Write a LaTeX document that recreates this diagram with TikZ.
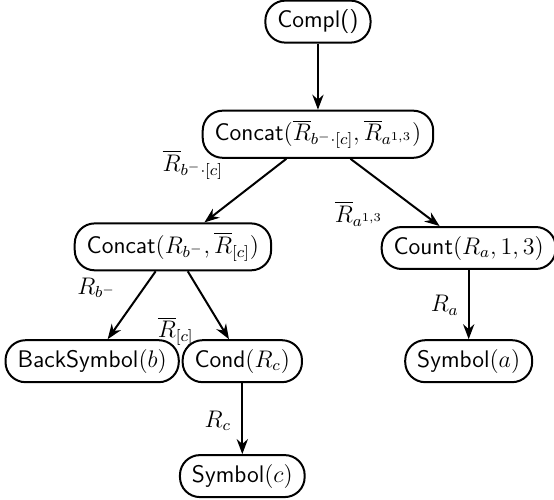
\documentclass[tikz,border=0pt]{standalone}
\usepackage{tikz}
\usetikzlibrary{arrows.meta}
\usepackage{amsmath}

\begin{document}
\begin{tikzpicture}[
    op/.style={draw, line width=1pt, rounded corners=10pt, font=\sffamily\large,
               inner xsep=6pt, inner ysep=4.5pt, minimum height=20pt},
    edgelbl/.style={inner sep=1pt, font=\large},
    link/.style={line width=1pt, -{Stealth}}]
  \useasboundingbox (0,0) rectangle (9.74,8.79);
  % operator tree
  \node[op] (compl) at (5.59, 8.41) {Compl()};
  \node[op] (top)   at (5.59, 6.43)
        {Concat$(\overline{R}_{b^-\cdot[c]},\overline{R}_{a^{1,3}})$};
  \node[op] (left)  at (3.04, 4.45) {Concat$(R_{b^-},\overline{R}_{[c]})$};
  \node[op] (count) at (8.24, 4.43) {Count$(R_a,1,3)$};
  \node[op] (back)  at (1.62, 2.44) {BackSymbol$(b)$};
  \node[op] (cond)  at (4.26, 2.44) {Cond$(R_c)$};
  \node[op] (syma)  at (8.24, 2.44) {Symbol$(a)$};
  \node[op] (symc)  at (4.26, 0.42) {Symbol$(c)$};
  % connectors
  \draw[link] (compl) -- (top);
  \draw[link] (top) -- (left);
  \draw[link] (top) -- (count);
  \draw[link] (left) -- (back);
  \draw[link] (left) -- (cond);
  \draw[link] (cond) -- (symc);
  \draw[link] (count) -- (syma);
  % edge labels
  \node[edgelbl] (lbc)  at (3.39, 5.89) {$\overline{R}_{b^-\cdot[c]}$};
  \node[edgelbl] (la13) at (6.31, 5.03) {$\overline{R}_{a^{1,3}}$};
  \node[edgelbl] (lb)   at (1.70, 3.73) {$R_{b^-}$};
  \node[edgelbl] (lc)   at (3.09, 2.97) {$\overline{R}_{[c]}$};
  \node[edgelbl] (lrc)  at (3.83, 1.39) {$R_c$};
  \node[edgelbl] (lra)  at (7.82, 3.42) {$R_a$};
\end{tikzpicture}
\end{document}
